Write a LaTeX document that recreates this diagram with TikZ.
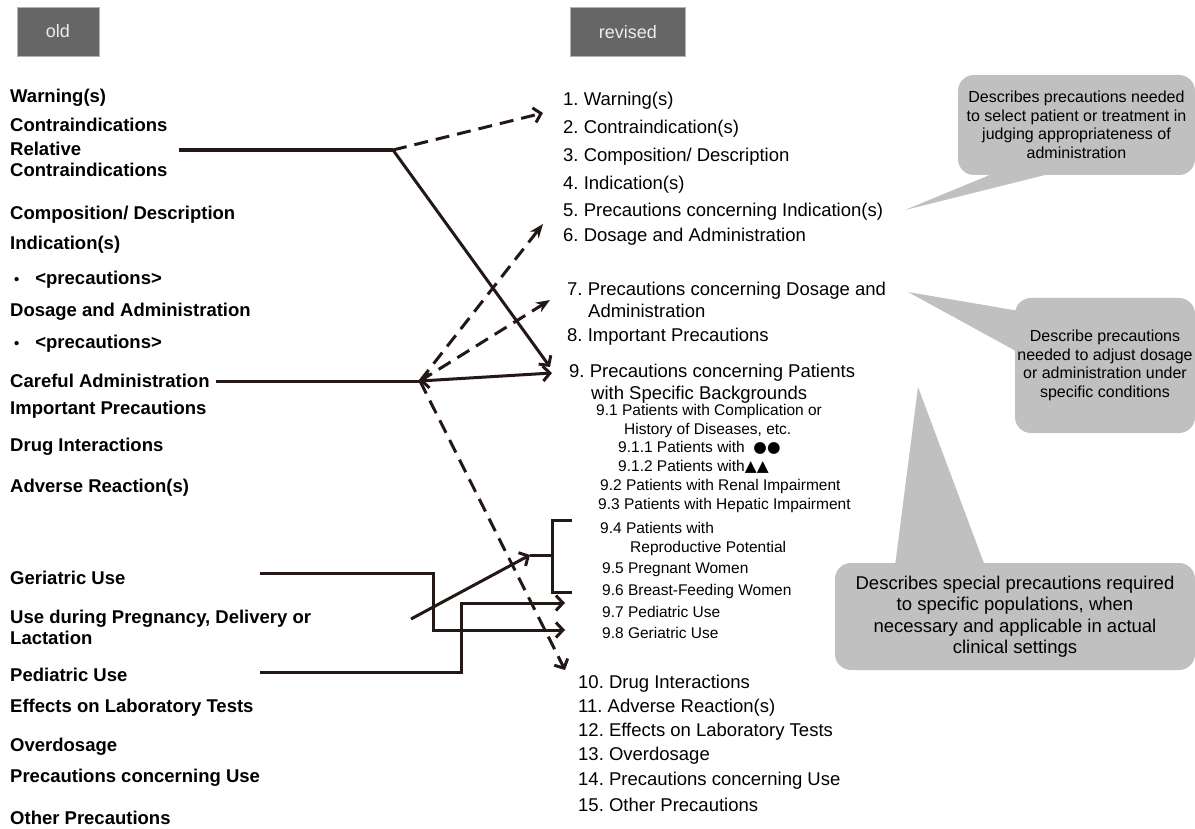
\documentclass[tikz,border=0pt]{standalone}
\usepackage{fontspec}
\setmainfont{Liberation Sans}
\newfontfamily\symfont{DejaVu Sans}
\usepackage{tikz}
\usetikzlibrary{arrows.meta}
\definecolor{boxgray}{RGB}{102,102,102}
\definecolor{notegray}{RGB}{192,192,192}
\definecolor{inkline}{RGB}{35,24,21}
\newcommand{\dotmark}{\hspace*{4pt}\scalebox{0.8}{•}\hspace*{16pt}}
\frenchspacing

\begin{document}
\begin{tikzpicture}[x=1pt,y=-1pt,
  oldentry/.style={anchor=west,inner sep=0pt,align=left,
    font=\fontsize{18.5}{21}\selectfont\bfseries},
  newentry/.style={anchor=west,inner sep=0pt,align=left,
    font=\fontsize{18.5}{22}\selectfont},
  subentry/.style={anchor=west,inner sep=0pt,align=left,
    font=\fontsize{15.5}{18.5}\selectfont},
  headbox/.style={fill=boxgray,draw=gray!60,text=white!93!black,
    minimum height=49pt,font=\fontsize{18}{21}\selectfont},
  notebox/.style={fill=notegray,rounded corners=16pt,align=center,inner sep=0pt},
  wire/.style={line width=3pt,draw=inkline},
  dashwire/.style={dash pattern=on 14pt off 8pt},
  >={Straight Barb[length=7pt,width=15pt]}]
\useasboundingbox (0,0) rectangle (1195,829);

% callouts sit behind everything else
\fill[notegray] (905,210) -- (997,172) -- (1057,172) -- cycle;
\node[notebox,minimum width=237pt,minimum height=100pt,
  font=\fontsize{16}{18.5}\selectfont] (noteA) at (1076.5,125)
  {Describes precautions needed\\to select patient or treatment in\\judging appropriateness of\\administration};
\fill[notegray] (908,292) -- (1025,312) -- (1025,356) -- cycle;
\node[notebox,minimum width=180pt,minimum height=135pt,
  font=\fontsize{16}{18.5}\selectfont] (noteB) at (1105,365.5)
  {Describe precautions\\needed to adjust dosage\\or administration under\\specific conditions};
\fill[notegray] (918,387) -- (895,566) -- (985,566) -- cycle;
\node[notebox,minimum width=360pt,minimum height=107pt,
  font=\fontsize{18.5}{21.5}\selectfont] (noteC) at (1015,616.5)
  {Describes special precautions required\\to specific populations, when\\necessary and applicable in actual\\clinical settings};

\node[headbox,minimum width=82pt] (hold) at (58,31.5) {old};
\node[headbox,minimum width=115pt] (hnew) at (628,32) {revised};

% old order
\node[oldentry] (warn) at (10,98) {Warning(s)};
\node[oldentry] (contra) at (10,125) {Contraindications};
\node[oldentry] (relc) at (10,159) {Relative\\Contraindications};
\node[oldentry] (comp) at (10,215) {Composition/ Description};
\node[oldentry] (ind) at (10,245) {Indication(s)};
\node[oldentry] (indp) at (10,280) {\dotmark<precautions>};
\node[oldentry] (dose) at (10,312) {Dosage and Administration};
\node[oldentry] (dosep) at (10,344) {\dotmark<precautions>};
\node[oldentry] (care) at (10,381) {Careful Administration};
\node[oldentry] (imp) at (10,410) {Important Precautions};
\node[oldentry] (drug) at (10,447) {Drug Interactions};
\node[oldentry] (adv) at (10,488) {Adverse Reaction(s)};
\node[oldentry] (geri) at (10,578) {Geriatric Use};
\node[oldentry] (preg) at (10,627) {Use during Pregnancy, Delivery or\\Lactation};
\node[oldentry] (pedi) at (10,675) {Pediatric Use};
\node[oldentry] (lab) at (10,708) {Effects on Laboratory Tests};
\node[oldentry] (over) at (10,747) {Overdosage};
\node[oldentry] (use) at (10,778) {Precautions concerning Use};
\node[oldentry] (other) at (10,818) {Other Precautions};

% revised order
\node[newentry] (r1) at (563,101) {1. Warning(s)};
\node[newentry] (r2) at (563,129) {2. Contraindication(s)};
\node[newentry] (r3) at (563,157) {3. Composition/ Description};
\node[newentry] (r4) at (563,185) {4. Indication(s)};
\node[newentry] (r5) at (563,212) {5. Precautions concerning Indication(s)};
\node[newentry] (r6) at (563,237) {6. Dosage and Administration};
\node[newentry] (r7) at (567,300) {7. Precautions concerning Dosage and\\\hspace*{21pt}Administration};
\node[newentry] (r8) at (567,337) {8. Important Precautions};
\node[newentry] (r9) at (569,384) {9. Precautions concerning Patients\\\hspace*{22pt}with Specific Backgrounds};
\node[subentry] (r91) at (596,421) {9.1 Patients with Complication or\\\hspace*{28pt}History of Diseases, etc.};
\node[subentry] (r911) at (618,448) {9.1.1 Patients with\ \ {\symfont ●●}};
\node[subentry] (r912) at (618,467) {9.1.2 Patients with{\symfont ▲▲}};
\node[subentry] (r92) at (600,486) {9.2 Patients with Renal Impairment};
\node[subentry] (r93) at (598,505) {9.3 Patients with Hepatic Impairment};
\node[subentry] (r94) at (600,539) {9.4 Patients with\\\hspace*{30pt}Reproductive Potential};
\node[subentry] (r95) at (602,570) {9.5 Pregnant Women};
\node[subentry] (r96) at (602,591) {9.6 Breast-Feeding Women};
\node[subentry] (r97) at (602,612) {9.7 Pediatric Use};
\node[subentry] (r98) at (602,633) {9.8 Geriatric Use};
\node[newentry] (r10) at (578,684) {10. Drug Interactions};
\node[newentry] (r11) at (578,708) {11. Adverse Reaction(s)};
\node[newentry] (r12) at (578,732) {12. Effects on Laboratory Tests};
\node[newentry] (r13) at (578,756) {13. Overdosage};
\node[newentry] (r14) at (578,781) {14. Precautions concerning Use};
\node[newentry] (r15) at (578,805) {15. Other Precautions};

\coordinate (jA) at (393,150);
\coordinate (jB) at (420,381);
\coordinate (gS) at (260,573);
\coordinate (pS) at (260,672);
\coordinate (qS) at (411,619);
\coordinate (qT) at (530,555);
\coordinate (brT) at (572,520);
\coordinate (brB) at (572,592);

\draw[wire,line width=4pt] ([xshift=11pt]relc.east |- jA) -- (jA);
\draw[wire,dashwire,->] (jA) -- ([xshift=-20pt,yshift=16pt]r2.west);
\draw[wire,->] (jA) -- ([xshift=-19pt,yshift=17pt]r9.west);

\draw[wire] ([xshift=6pt]care.east) -- (jB);
\draw[wire,<->] (jB) -- ([xshift=-17pt,yshift=11pt]r9.west);
\draw[wire,dashwire,-{Stealth[length=14pt,width=11pt]}] (jB) -- ([xshift=-20pt,yshift=-12pt]r5.west);
\draw[wire,dashwire,-{Stealth[length=14pt,width=11pt]}] (jB) -- ([xshift=-17pt]r7.west);
\draw[wire,dashwire,->] (jB) -- ([xshift=-13pt,yshift=14pt]r10.west);

\draw[wire,->] (gS) -| (433,630) -- ([xshift=-37pt,yshift=3pt]r98.west);
\draw[wire,->] (pS) -| (461,603) -- ([xshift=-37pt,yshift=9pt]r97.west);
\draw[wire,->] (qS) -- (qT);
\draw[wire] (qT) -- (552,555);
\draw[wire] (brT) -- ++(-20,0) |- (brB);
\end{tikzpicture}
\end{document}
